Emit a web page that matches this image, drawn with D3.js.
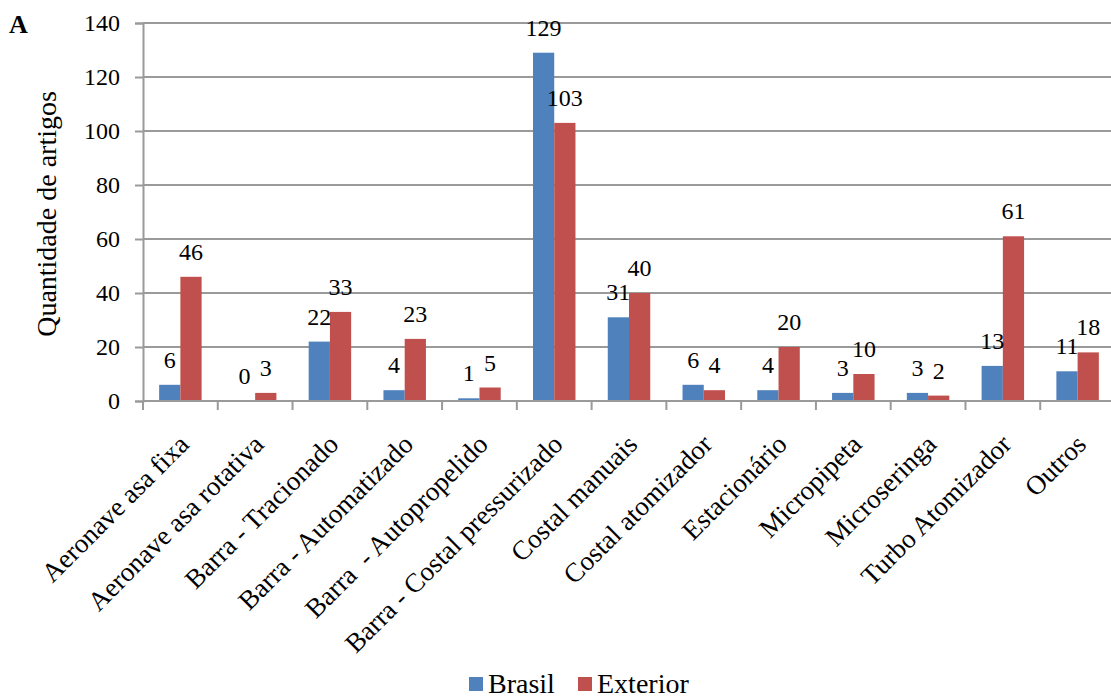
<!DOCTYPE html>
<html>
<head>
<meta charset="utf-8">
<script src="https://cdn.jsdelivr.net/npm/d3@7/dist/d3.min.js"></script>
<style>
  html, body { margin: 0; padding: 0; background: #fff; }
  svg { display: block; }
</style>
</head>
<body>
<svg id="chart" width="1111" height="698"></svg>
<script>
// Equipment categories and article counts (Brazil vs. abroad)
const categories = [
  "Aeronave asa fixa", "Aeronave asa rotativa", "Barra - Tracionado",
  "Barra - Automatizado", "Barra  - Autopropelido", "Barra - Costal pressurizado",
  "Costal manuais", "Costal atomizador", "Estacionário", "Micropipeta",
  "Microseringa", "Turbo Atomizador", "Outros"
];
const brasil   = [6, 0, 22, 4, 1, 129, 31, 6, 4, 3, 3, 13, 11];
const exterior = [46, 3, 33, 23, 5, 103, 40, 4, 20, 10, 2, 61, 18];
const seriesNames = ["Brasil", "Exterior"];
const yTicks = [0, 20, 40, 60, 80, 100, 120, 140];

const colors = { Brasil: "#4F81BD", Exterior: "#C0504D" };
const gridColor = "#9a9a9a";
const FONT = "'Liberation Serif', 'Times New Roman', Times, serif";

const svg = d3.select("#chart").attr("font-family", FONT);
const margin = { left: 143, right: 1115, top: 23, bottom: 401 };

const x = d3.scaleBand()
  .domain(categories)
  .range([margin.left, margin.right]);

const inner = d3.scaleBand()
  .domain(seriesNames)
  .range([0, x.bandwidth()])
  .paddingInner(0)
  .paddingOuter(0.76);

const y = d3.scaleLinear()
  .domain([0, 140])
  .range([margin.bottom, margin.top]);

// Horizontal gridlines
svg.append("g")
  .selectAll("line")
  .data(yTicks.filter(d => d > 0))
  .join("line")
  .attr("x1", margin.left)
  .attr("x2", margin.right)
  .attr("y1", d => y(d))
  .attr("y2", d => y(d))
  .attr("stroke", gridColor)
  .attr("stroke-width", 2);

// Y axis
const yAxis = svg.append("g")
  .attr("transform", `translate(${margin.left},0)`)
  .call(d3.axisLeft(y).tickValues(yTicks).tickSize(8).tickPadding(15).tickFormat(d3.format("d")))
  .attr("font-family", FONT)
  .attr("font-size", 24);
yAxis.select(".domain").attr("stroke", gridColor).attr("stroke-width", 2);
yAxis.selectAll(".tick line").attr("stroke", gridColor).attr("stroke-width", 2);
yAxis.selectAll(".tick text").attr("fill", "#000");

// Y axis title
svg.append("text")
  .attr("transform", `translate(56,${(margin.top + margin.bottom) / 2 + 2}) rotate(-90)`)
  .attr("text-anchor", "middle")
  .attr("font-family", FONT)
  .attr("font-size", 28)
  .text("Quantidade de artigos");

// Bars
const rows = categories.map((c, i) => ({
  cat: c,
  values: [
    { series: "Brasil", value: brasil[i] },
    { series: "Exterior", value: exterior[i] }
  ]
}));

const groups = svg.append("g")
  .selectAll("g")
  .data(rows)
  .join("g")
  .attr("transform", d => `translate(${x(d.cat)},0)`);

groups.selectAll("rect")
  .data(d => d.values)
  .join("rect")
  .attr("x", d => inner(d.series))
  .attr("y", d => y(d.value))
  .attr("width", inner.bandwidth())
  .attr("height", d => y(0) - y(d.value))
  .attr("fill", d => colors[d.series]);

// Value labels above each bar
groups.selectAll("text.val")
  .data(d => d.values)
  .join("text")
  .attr("class", "val")
  .attr("x", d => inner(d.series) + inner.bandwidth() / 2)
  .attr("y", d => y(d.value) - 17)
  .attr("text-anchor", "middle")
  .attr("font-family", FONT)
  .attr("font-size", 24)
  .text(d => d.value);

// X axis baseline and ticks
const xAxis = svg.append("g");
xAxis.append("line")
  .attr("x1", margin.left).attr("x2", margin.right)
  .attr("y1", y(0)).attr("y2", y(0))
  .attr("stroke", gridColor).attr("stroke-width", 2);
xAxis.selectAll("line.tick")
  .data(categories.concat(["__end"]))
  .join("line")
  .attr("class", "tick")
  .attr("x1", (d, i) => margin.left + i * x.step())
  .attr("x2", (d, i) => margin.left + i * x.step())
  .attr("y1", y(0))
  .attr("y2", y(0) + 9)
  .attr("stroke", gridColor)
  .attr("stroke-width", 2);

// Rotated category labels
xAxis.selectAll("text")
  .data(categories)
  .join("text")
  .attr("transform", d => `translate(${x(d) + x.bandwidth() / 2 + 10},446) rotate(-45)`)
  .attr("text-anchor", "end")
  .attr("font-family", FONT)
  .attr("font-size", 27)
  .style("white-space", "pre")
  .text(d => d);

// Panel letter
svg.append("text")
  .attr("x", 9)
  .attr("y", 33)
  .attr("font-family", FONT)
  .attr("font-size", 26)
  .attr("font-weight", "bold")
  .text("A");

// Legend
const legend = svg.append("g").attr("transform", "translate(469,677)");
const legendItems = legend.selectAll("g")
  .data(seriesNames)
  .join("g")
  .attr("transform", (d, i) => `translate(${i === 0 ? 0 : 109},0)`);
legendItems.append("rect")
  .attr("width", 14)
  .attr("height", 14)
  .attr("fill", d => colors[d]);
legendItems.append("text")
  .attr("x", 19)
  .attr("y", 16)
  .attr("font-family", FONT)
  .attr("font-size", 28)
  .text(d => d);
</script>
</body>
</html>
